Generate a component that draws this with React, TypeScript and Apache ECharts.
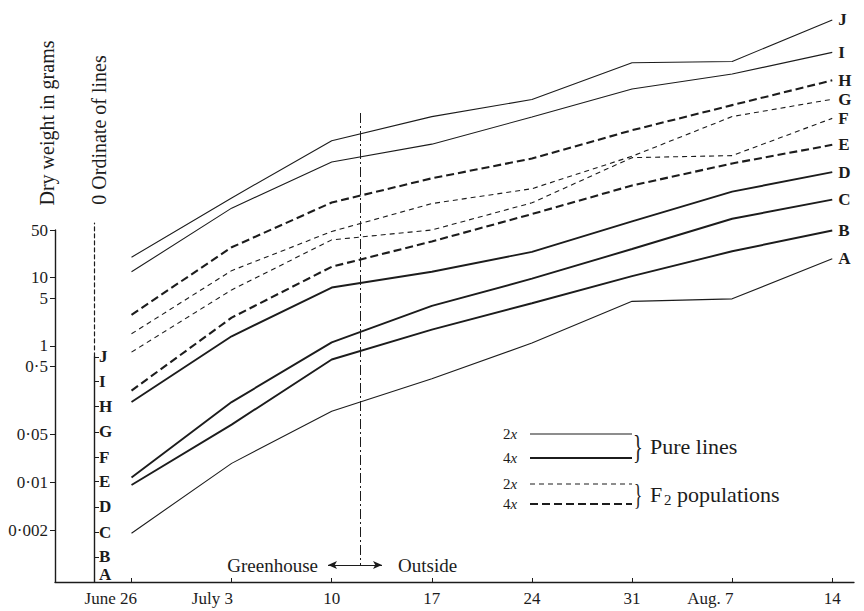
import { useEffect, useRef } from 'react';
import * as echarts from 'echarts';

// ---------- data ----------
// sampling dates, in days after June 26
const dateDays = [0, 7, 14, 21, 28, 35, 42, 49];
const dateLabels = ['June 26', 'July 3', '10', '17', '24', '31', 'Aug. 7', '14'];

const lineNames = ['A', 'B', 'C', 'D', 'E', 'F', 'G', 'H', 'I', 'J'];
// ploidy / material of each line (legend classes)
const lineKinds = ['2x pure', '4x pure', '4x pure', '4x pure', '4x F2', '2x F2', '2x F2', '4x F2', '2x pure', '2x pure'];
// zero ordinate of each line, in decades (log10 g) above the base of the weight scale
const lineOrdinates = [0, 0.37, 0.73, 1.1, 1.47, 1.83, 2.2, 2.57, 2.94, 3.3];

// dry weight in grams of each line on each date
const weightA = [0.0018, 0.019, 0.11, 0.33, 1.1, 4.5, 4.9, 19];
const weightB = [0.0039, 0.03, 0.27, 0.74, 1.8, 4.5, 10.4, 21];
const weightC = [0.0022, 0.028, 0.21, 0.72, 1.8, 4.9, 13.6, 26];
const weightD = [0.012, 0.11, 0.57, 0.97, 1.9, 5.3, 14.5, 28];
const weightE = [0.0075, 0.088, 0.49, 1.15, 2.9, 7.6, 16, 30];
const weightF = [0.012, 0.098, 0.53, 0.74, 1.85, 8.5, 9.1, 32];
const weightG = [0.0095, 0.08, 0.3, 0.77, 1.27, 3.8, 14.5, 26];
const weightH = [0.0077, 0.075, 0.34, 0.77, 1.5, 3.9, 9.1, 21];
const weightI = [0.014, 0.12, 0.57, 1.04, 2.6, 6.7, 11.1, 23];
const weightJ = [0.01, 0.074, 0.51, 1.15, 2.05, 7.1, 7.4, 30];
const lineWeights = [weightA, weightB, weightC, weightD, weightE, weightF, weightG, weightH, weightI, weightJ];

// dry-weight scale
const weightTicks = [50, 10, 5, 1, 0.5, 0.05, 0.01, 0.002];
const weightTickLabels = ['50', '10', '5', '1', '0·5', '0·05', '0·01', '0·002'];
const baselineLog = -3.46; // log10 grams at the foot of the scale

// move from greenhouse to outside (days after June 26)
const transferDay = 16;

// ---------- component ----------
const SERIF = '"Liberation Serif", "DejaVu Serif", serif';
const INK = '#1c1c1c';

export default function App() {
  const ref = useRef<HTMLDivElement>(null);

  useEffect(() => {
    document.body.style.margin = '0';
    document.body.style.overflow = 'hidden';
    const el = ref.current;
    if (!el) return;
    const chart = echarts.init(el, null, { renderer: 'svg' });

    // layout
    const H = 611;
    const plotLeft = 55;
    const plotRight = 854;
    const baseY = 582;
    const weightTopY = 230;
    const plotTopY = 10;
    const ordX = 94;
    const dashTopY = 223;
    const xMin = -5.35;
    const xMax = 50.52;

    const yWeightMax = Math.log10(weightTicks[0]);
    const pxPerDec = (baseY - weightTopY) / (yWeightMax - baselineLog);
    const yPlotMax = baselineLog + (baseY - plotTopY) / pxPerDec;
    const ordTopY = baseY - lineOrdinates[lineOrdinates.length - 1] * pxPerDec;
    const yAt = (py: number) => baselineLog + (baseY - py) / pxPerDec;
    const pxPerDay = (plotRight - plotLeft) / (xMax - xMin);
    const xAt = (px: number) => xMin + (px - plotLeft) / pxPerDay;

    const weightTickValues = weightTicks.map((w) => Math.log10(w));
    const ordTickValues = lineOrdinates.map((o) => baselineLog + o);

    // x labels: keep the day number under its tick
    const canvas = document.createElement('canvas');
    const ctx = canvas.getContext('2d');
    const xFont = 17;
    if (ctx) ctx.font = `${xFont}px "Liberation Serif"`;
    const xRich: Record<string, any> = {};
    dateLabels.forEach((lab, i) => {
      const sp = lab.lastIndexOf(' ');
      let pad = 0;
      if (sp > 0 && ctx) pad = ctx.measureText(lab.slice(0, sp + 1)).width + 6;
      xRich['d' + i] = { fontSize: xFont, fontFamily: SERIF, color: INK, padding: [0, pad, 0, 0] };
    });

    const kindStyle: Record<string, { width: number; type: any }> = {
      '2x pure': { width: 1.1, type: 'solid' },
      '4x pure': { width: 1.9, type: 'solid' },
      '2x F2': { width: 1.1, type: [5, 4] },
      '4x F2': { width: 2.1, type: [8, 4] },
    };

    const arrowY = yAt(565);
    const markLine = {
      silent: true,
      symbol: 'none',
      label: { show: false },
      emphasis: { disabled: true },
      data: [
        [
          { coord: [transferDay, yAt(113)], lineStyle: { color: INK, width: 1, type: [10, 3, 2, 3] } },
          { coord: [transferDay, arrowY] },
        ],
        [
          { coord: [xAt(328), arrowY], symbol: 'arrow', symbolSize: [6, 9], lineStyle: { color: INK, width: 1.2, type: 'solid' } },
          { coord: [xAt(382), arrowY], symbol: 'arrow', symbolSize: [6, 9] },
        ],
      ],
    };

    const series = lineNames.map((name, k) => {
      const st = kindStyle[lineKinds[k]];
      return {
        type: 'line',
        name,
        xAxisIndex: 0,
        yAxisIndex: 0,
        data: dateDays.map((d, i) => [d, Math.log10(lineWeights[k][i]) + lineOrdinates[k]]),
        showSymbol: false,
        symbol: 'none',
        silent: true,
        lineStyle: { color: INK, width: st.width, type: st.type },
        endLabel: {
          show: true,
          formatter: () => name,
          distance: 6,
          fontFamily: SERIF,
          fontWeight: 'bold',
          fontSize: 17,
          color: INK,
        },
        z: 3,
        ...(k === 0 ? { markLine } : {}),
      };
    });

    const legendY = { p2: 434, p4: 458, f2: 484, f4: 504 };
    const lx1 = 530;
    const lx2 = 632;
    const twoX = (y: number, n: string) => ({
      type: 'text',
      x: 503,
      y,
      style: {
        text: `{n|${n}}{i|x}`,
        align: 'left',
        verticalAlign: 'middle',
        rich: {
          n: { fontSize: 15, fontFamily: SERIF, fill: INK },
          i: { fontSize: 15, fontFamily: SERIF, fontStyle: 'italic', fill: INK },
        },
      },
    });
    const legLine = (y: number, width: number, type: any) => ({
      type: 'line',
      shape: { x1: lx1, y1: y, x2: lx2, y2: y },
      style: { stroke: INK, lineWidth: width, lineDash: type === 'solid' ? null : type },
    });
    const txt = (x: number, y: number, text: string, size: number, align = 'left', extra: any = {}) => ({
      type: 'text',
      x,
      y,
      ...extra,
      style: { text, fontFamily: SERIF, fontSize: size, fill: INK, align, verticalAlign: 'middle' },
    });

    const graphic = [
      txt(47, 123, 'Dry weight in grams', 20, 'center', { rotation: Math.PI / 2 }),
      txt(99, 130, '0 Ordinate of lines', 20, 'center', { rotation: Math.PI / 2 }),
      txt(318, 565, 'Greenhouse', 19, 'right'),
      txt(398, 565, 'Outside', 19, 'left'),
      twoX(legendY.p2, '2'),
      legLine(legendY.p2, kindStyle['2x pure'].width, 'solid'),
      twoX(legendY.p4, '4'),
      legLine(legendY.p4, kindStyle['4x pure'].width, 'solid'),
      twoX(legendY.f2, '2'),
      legLine(legendY.f2, kindStyle['2x F2'].width, kindStyle['2x F2'].type),
      twoX(legendY.f4, '4'),
      legLine(legendY.f4, kindStyle['4x F2'].width, kindStyle['4x F2'].type),
      txt(638, (legendY.p2 + legendY.p4) / 2, '}', 34, 'center', { scaleX: 0.6 }),
      txt(650, (legendY.p2 + legendY.p4) / 2, 'Pure lines', 22),
      txt(638, (legendY.f2 + legendY.f4) / 2, '}', 30, 'center', { scaleX: 0.6 }),
      txt(650, (legendY.f2 + legendY.f4) / 2, 'F', 22),
      txt(664, (legendY.f2 + legendY.f4) / 2 + 6, '2', 15),
      txt(677, (legendY.f2 + legendY.f4) / 2, 'populations', 22),
    ];

    const hiddenX = (gridIndex: number) => ({ gridIndex, type: 'value', min: 0, max: 1, show: false });

    const option: any = {
      animation: false,
      backgroundColor: '#ffffff',
      textStyle: { fontFamily: SERIF, color: INK },
      grid: [
        { left: plotLeft, right: 864 - plotRight, top: plotTopY, bottom: H - baseY },
        { left: plotLeft, width: 1, top: weightTopY, bottom: H - baseY },
        { left: ordX, width: 1, top: ordTopY, bottom: H - baseY },
        { left: ordX, width: 1, top: dashTopY, height: ordTopY - dashTopY },
      ],
      xAxis: [
        {
          gridIndex: 0,
          type: 'value',
          min: xMin,
          max: xMax,
          position: 'bottom',
          axisLine: { show: true, onZero: false, lineStyle: { color: INK, width: 1.3 } },
          axisTick: { show: true, inside: true, length: 4, customValues: dateDays, lineStyle: { color: INK, width: 1 } },
          axisLabel: {
            show: true,
            customValues: dateDays,
            margin: 8,
            formatter: (v: number) => {
              const i = dateDays.findIndex((d) => Math.abs(d - v) < 1e-6);
              return i >= 0 ? `{d${i}|${dateLabels[i]}}` : '';
            },
            rich: xRich,
            fontSize: xFont,
            fontFamily: SERIF,
            color: INK,
          },
          splitLine: { show: false },
        },
        hiddenX(1),
        hiddenX(2),
        hiddenX(3),
      ],
      yAxis: [
        { gridIndex: 0, type: 'value', min: baselineLog, max: yPlotMax, show: false },
        {
          gridIndex: 1,
          type: 'value',
          min: baselineLog,
          max: yWeightMax,
          position: 'left',
          axisLine: { show: true, onZero: false, lineStyle: { color: INK, width: 1.4 } },
          axisTick: { show: true, length: 5, customValues: weightTickValues, lineStyle: { color: INK, width: 1 } },
          axisLabel: {
            show: true,
            customValues: weightTickValues,
            margin: 7,
            fontSize: 17,
            fontFamily: SERIF,
            color: INK,
            formatter: (v: number) => {
              const i = weightTickValues.findIndex((t) => Math.abs(t - v) < 1e-6);
              return i >= 0 ? weightTickLabels[i] : '';
            },
          },
          splitLine: { show: false },
        },
        {
          gridIndex: 2,
          type: 'value',
          min: baselineLog,
          max: ordTickValues[ordTickValues.length - 1],
          position: 'left',
          axisLine: { show: true, onZero: false, lineStyle: { color: INK, width: 1.4 } },
          axisTick: { show: true, inside: true, length: 5, customValues: ordTickValues, lineStyle: { color: INK, width: 1 } },
          axisLabel: {
            show: true,
            inside: true,
            customValues: ordTickValues,
            margin: 5,
            fontSize: 17,
            fontWeight: 'bold',
            fontFamily: SERIF,
            color: INK,
            formatter: (v: number) => {
              const i = ordTickValues.findIndex((t) => Math.abs(t - v) < 1e-6);
              if (i < 0) return '';
              return i === 0 ? `{a|${lineNames[i]}}` : lineNames[i];
            },
            rich: {
              a: { fontSize: 17, fontWeight: 'bold', fontFamily: SERIF, color: INK, padding: [0, 0, 16, 0] },
            },
          },
          splitLine: { show: false },
        },
        {
          gridIndex: 3,
          type: 'value',
          min: 0,
          max: 1,
          position: 'left',
          axisLine: { show: true, onZero: false, lineStyle: { color: INK, width: 1.2, type: [4, 3] } },
          axisTick: { show: false },
          axisLabel: { show: false },
          splitLine: { show: false },
        },
      ],
      series,
      graphic,
    };

    chart.setOption(option);
    return () => chart.dispose();
  }, []);

  return <div ref={ref} style={{ width: 864, height: 611, background: '#ffffff' }} />;
}
